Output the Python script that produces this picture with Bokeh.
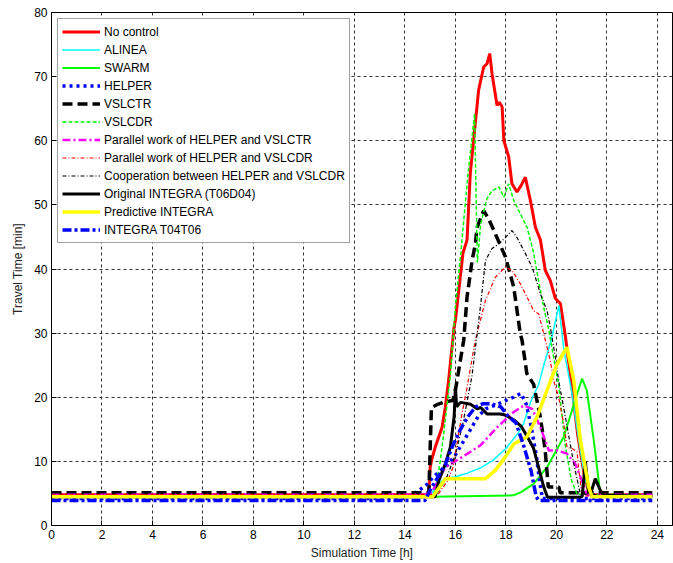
from bokeh.plotting import figure
from bokeh.models import Legend, LegendItem, FixedTicker
from bokeh.embed import file_html
from bokeh.resources import INLINE

# ---------------- data (time in h, travel time in min) ----------------
x_ticks = [0, 2, 4, 6, 8, 10, 12, 14, 16, 18, 20, 22, 24]
y_ticks = [0, 10, 20, 30, 40, 50, 60, 70, 80]

nc_t = [0, 14.9, 14.95, 15.0, 15.05, 15.2, 15.47, 15.6, 15.73, 15.95, 16.0, 16.06, 16.3, 16.46,
        16.59, 16.92, 17.12, 17.25, 17.36, 17.45, 17.65, 17.74, 17.85, 17.92, 18.11, 18.24,
        18.44, 18.6, 18.77, 18.97, 19.17, 19.37, 19.56, 19.76, 19.96, 20.16, 20.36, 20.6,
        20.85, 21.1, 21.3, 21.4, 23.8]
nc_v = [4.8, 4.8, 5.5, 9.0, 10.1, 12.2, 15.3, 18.4, 22.6, 31, 32, 34.1, 42.5, 44.5,
        54.9, 67.9, 71.5, 72, 73.6, 70.5, 65.5, 66.0, 65.3, 60, 57.5, 53.3,
        52.0, 53, 54.3, 50.7, 46.5, 44.5, 39.8, 38.2, 35.4, 34.6, 29.4, 22,
        14, 8, 5, 4.8, 4.8]

al_t = [0, 15.0, 15.3, 15.6, 16.0, 16.5, 17.0, 17.5, 18.0, 18.5, 18.7, 19.0, 19.3, 19.5,
        19.8, 20.1, 20.3, 20.6, 20.9, 21.1, 21.3, 21.4, 23.8]
al_v = [4.6, 4.6, 6.5, 7.3, 7.6, 8.2, 9.0, 10.2, 12.0, 14.5, 15.9, 19.5, 22, 25,
        29, 34.3, 27.3, 21, 13, 8, 4.9, 4.6, 4.6]

sw_t = [0, 15.0, 15.14, 18.3, 18.6, 19.1, 19.63, 20.29, 20.82, 21.02, 21.21, 21.48, 21.74, 23.8]
sw_v = [4.6, 4.6, 4.5, 4.7, 5.2, 6.5, 9.1, 13.8, 20.5, 22.9, 21, 13.3, 4.9, 4.6]

he_t = [0, 14.0, 14.3, 14.6, 14.9, 15.1, 15.4, 15.7, 16.0, 16.3, 16.6, 16.9, 17.2, 17.6,
        18.0, 18.3, 18.6, 18.8, 19.0, 19.2, 19.35, 19.45, 23.8]
he_v = [4.2, 4.2, 4.8, 5.6, 6.5, 7.5, 8.5, 9.5, 11, 13, 15, 17, 18.2, 18.8,
        19.5, 20.0, 20.6, 19, 15.5, 11, 6.5, 4.2, 4.2]

vt_t = [0, 14.95, 15.0, 15.05, 15.3, 15.6, 15.9, 16.0, 16.33, 16.46, 16.66, 16.79, 16.86,
        17.12, 17.32, 17.58, 17.98, 18.31, 18.57, 18.64, 18.83, 19.1, 19.36, 19.55, 19.68,
        20.1, 20.15, 23.8]
vt_v = [5.1, 5.1, 12, 18.4, 18.9, 19.3, 19.5, 21.1, 28.9, 35.6, 41.3, 43.9, 46.5,
        49.1, 47.8, 45.5, 41.9, 37.2, 29.9, 28.9, 23.7, 22, 17, 12, 6.0,
        6.0, 5.1, 5.1]

vd_t = [0, 15.1, 15.2, 15.4, 15.6, 15.8, 16.0, 16.2, 16.5, 16.76, 16.87, 17.0, 17.25, 17.45,
        17.72, 17.92, 18.11, 18.31, 18.57, 18.84, 19.1, 19.3, 19.5, 19.7, 19.9, 20.09,
        20.36, 20.6, 20.82, 23.8]
vd_v = [4.6, 4.6, 5.5, 10, 16.4, 23.4, 34.1, 41.9, 54.9, 64.2, 41, 47, 51, 52.2,
        52.8, 51.2, 53.3, 50.7, 48.6, 46.5, 42.5, 38, 34, 30.5, 26, 22,
        12.2, 7, 4.9, 4.6]

pt_t = [0, 14.9, 15.07, 15.6, 16.2, 16.99, 17.65, 18.31, 18.71, 19.04, 19.37, 19.7, 20.03,
        20.42, 20.75, 21.01, 21.21, 23.8]
pt_v = [4.8, 4.8, 5.2, 9.1, 10.5, 12.5, 15.3, 17.7, 18.7, 18.2, 15.3, 11.7, 11.7,
        11.2, 9.6, 7.0, 4.8, 4.8]

pd_t = [0, 15.3, 15.7, 15.9, 16.26, 16.46, 16.79, 17.19, 17.58, 17.85, 17.98, 18.24, 18.57,
        18.84, 19.1, 19.3, 19.5, 19.76, 19.89, 20.09, 20.29, 20.42, 20.62, 20.82, 20.88,
        21.02, 23.8]
pd_v = [4.8, 4.8, 7, 9, 17.4, 21.5, 28.9, 35.1, 38.7, 39.8, 40.3, 39.8, 37.7,
        35.6, 33.5, 33.0, 29.9, 25.7, 22.6, 20, 15.9, 12.2, 12.0, 11.5, 9,
        4.6, 4.6]

co_t = [0, 15.2, 15.6, 16.0, 16.3, 16.66, 16.99, 17.19, 17.45, 17.72, 17.98, 18.24, 18.44,
        18.71, 19.04, 19.37, 19.63, 19.76, 19.96, 20.09, 20.4, 20.69, 20.95, 23.8]
co_v = [4.6, 4.6, 7, 11, 16, 23.4, 34.1, 41.3, 43.2, 43.9, 44.9, 46.0, 44.9,
        42.9, 40.3, 36.1, 33.5, 30.9, 26.2, 22.6, 16, 9.6, 4.9, 4.6]

oi_t = [0, 15.2, 15.34, 15.6, 15.8, 15.95, 16.0, 16.05, 16.2, 16.6, 16.86, 17.0, 17.25,
        17.78, 18.0, 18.3, 18.6, 18.9, 19.1, 19.3, 19.5, 19.65, 20.9, 21.02, 21.15, 21.28,
        21.4, 21.54, 21.74, 21.88, 23.8]
oi_v = [4.5, 4.5, 7.0, 9.6, 12.2, 17, 21.6, 18.5, 19.2, 18.9, 18.2, 18.4, 17.4,
        17.4, 17.2, 16.5, 15.5, 13.5, 12, 9, 6, 4.4, 4.4, 4.5, 9.9, 5.0,
        5.5, 7.3, 5.5, 4.7, 4.5]

pr_t = [0, 15.1, 15.6, 17.19, 17.58, 17.98, 18.31, 18.83, 19.23, 19.63, 20.03, 20.42, 20.69,
        20.95, 21.28, 21.41, 23.8]
pr_v = [4.5, 4.5, 7.3, 7.3, 8.6, 10.7, 12.7, 13.8, 16.9, 21.1, 25.2, 27.8, 22.6,
        13.3, 6.0, 4.5, 4.5]

it_t = [0, 14.8, 15.0, 15.3, 15.6, 15.9, 16.2, 16.5, 16.8, 17.1, 17.4, 17.8, 18.1, 18.4,
        18.7, 19.0, 19.2, 19.3, 23.8]
it_v = [3.9, 3.9, 5.5, 7.5, 9.5, 12.5, 15, 17, 18.5, 19, 19, 18.5, 17, 16,
        12.5, 8.5, 4.5, 3.9, 3.9]

labels = ["No control", "ALINEA", "SWARM", "HELPER", "VSLCTR", "VSLCDR",
          "Parallel work of HELPER and VSLCTR", "Parallel work of HELPER and VSLCDR",
          "Cooperation between HELPER and VSLCDR", "Original INTEGRA (T06D04)",
          "Predictive INTEGRA", "INTEGRA T04T06"]

series = [
    (nc_t, nc_v, "#ff0000", 3.0, "solid"),
    (al_t, al_v, "#00ffff", 1.5, "solid"),
    (sw_t, sw_v, "#00ff00", 2.0, "solid"),
    (he_t, he_v, "#0000ff", 3.5, "3 4"),
    (vt_t, vt_v, "#000000", 3.5, "10 5"),
    (vd_t, vd_v, "#00ff00", 1.5, "4 2"),
    (pt_t, pt_v, "#ff00ff", 2.5, "8 3 2 3"),
    (pd_t, pd_v, "#ff0000", 1.2, "4 2 1 2"),
    (co_t, co_v, "#000000", 1.2, "4 2 1 2"),
    (oi_t, oi_v, "#000000", 3.0, "solid"),
    (pr_t, pr_v, "#ffff00", 3.5, "solid"),
    (it_t, it_v, "#0000ff", 3.5, "9 3 3 3"),
]

FONT = "Liberation Sans"

p = figure(width=673, height=563, output_backend="svg", toolbar_location=None,
           x_range=(0, 24.6), y_range=(0, 80),
           min_border_left=51, min_border_right=1, min_border_top=12, min_border_bottom=38,
           background_fill_color="white", border_fill_color="white")

items = []
for (t, v, col, w, dash), lab in zip(series, labels):
    r = p.line(t, v, line_color=col, line_width=w, line_dash=dash)
    items.append(LegendItem(label=lab, renderers=[r]))

p.outline_line_color = "black"
p.outline_line_width = 1

for ax in (p.xaxis[0], p.yaxis[0]):
    ax.major_tick_in = 5
    ax.major_tick_out = 0
    ax.minor_tick_line_color = None
    ax.axis_line_color = "black"
    ax.major_tick_line_color = "black"
    ax.major_label_text_font = FONT
    ax.major_label_text_font_size = "12px"
    ax.major_label_text_color = "black"
    ax.axis_label_text_font = FONT
    ax.axis_label_text_font_size = "12px"
    ax.axis_label_text_font_style = "normal"
    ax.axis_label_text_color = "#222222"
    ax.major_label_standoff = 4
    ax.axis_label_standoff = 6

p.xaxis[0].ticker = FixedTicker(ticks=x_ticks)
p.yaxis[0].ticker = FixedTicker(ticks=y_ticks)
p.xaxis[0].axis_label = "Simulation Time [h]"
p.yaxis[0].axis_label = "Travel Time [min]"
p.xaxis[0].axis_label_standoff = 4

for g in (p.xgrid[0], p.ygrid[0]):
    g.grid_line_color = "#333333"
    g.grid_line_dash = "3 3"
    g.grid_line_width = 1
p.xgrid[0].ticker = FixedTicker(ticks=x_ticks)
p.ygrid[0].ticker = FixedTicker(ticks=y_ticks)

legend = Legend(items=items, location="top_left")
legend.margin = 6
legend.padding = 4
legend.spacing = 1
legend.glyph_width = 38
legend.glyph_height = 17
legend.label_height = 17
legend.label_standoff = 4
legend.label_text_font = FONT
legend.label_text_font_size = "12px"
legend.label_text_color = "black"
legend.border_line_color = "#444444"
legend.border_line_width = 1.5
legend.background_fill_color = "white"
legend.background_fill_alpha = 1
p.add_layout(legend, "center")

open("out.html", "w").write(file_html(p, INLINE))
